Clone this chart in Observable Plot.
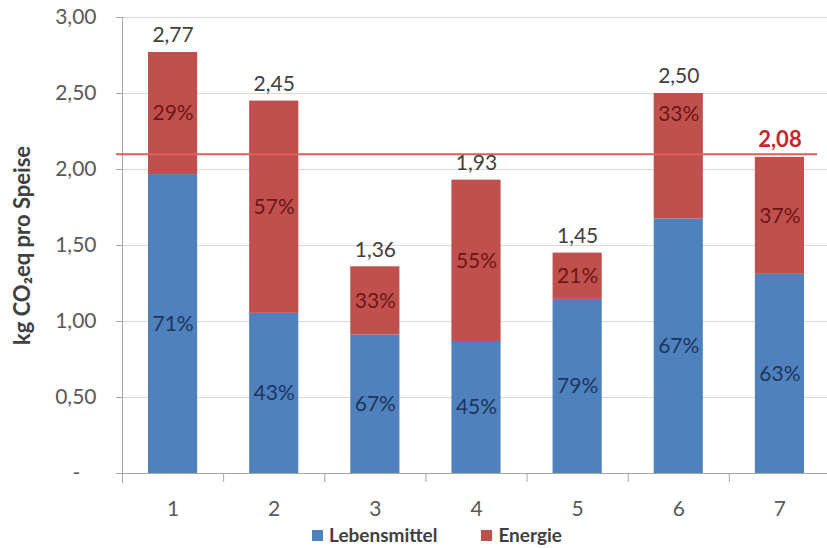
<!DOCTYPE html>
<html>
<head>
<meta charset="utf-8">
<script src="https://cdn.jsdelivr.net/npm/d3@7"></script>
<script src="https://cdn.jsdelivr.net/npm/@observablehq/plot@0.6"></script>
<style>
  html, body { margin: 0; padding: 0; background: #fff; overflow: hidden; }
  #chart { position: relative; width: 827px; height: 548px; font-family: Lato, sans-serif; }
  #chart svg { display: block; }
  .legend { position: absolute; left: 312px; top: 523px; display: flex; align-items: center;
            font-size: 19px; font-weight: 700; color: #404040; line-height: 24px; }
  .legend .item { display: flex; align-items: center; }
  .legend .item + .item { margin-left: 44px; }
  .legend .sw { display: inline-block; width: 11px; height: 11px; margin-right: 6px; }
</style>
</head>
<body>
<div id="chart"></div>
<script>
// Carbon footprint per dish, split into food and energy shares
const dishes = ["1", "2", "3", "4", "5", "6", "7"];
const totals = [2.77, 2.45, 1.36, 1.93, 1.45, 2.50, 2.08];
const foodShare = [71, 43, 67, 45, 79, 67, 63];
const energyShare = [29, 57, 33, 55, 21, 33, 37];
const referenceValue = 2.1;
const highlighted = "7";
const yTicks = [0, 0.5, 1, 1.5, 2, 2.5, 3];
const seriesNames = ["Lebensmittel", "Energie"];
const seriesColors = ["#4f81bd", "#c0504d"];
const yLabel = "kg CO₂eq pro Speise";

const fmt = v => d3.format(".2f")(v).replace(".", ",");

// One segment per dish and series, stacked food first
const segments = dishes.flatMap((dish, i) => {
  const food = totals[i] * foodShare[i] / 100;
  return [
    {dish, pos: i + 1, series: seriesNames[0], y1: 0, y2: food, share: foodShare[i]},
    {dish, pos: i + 1, series: seriesNames[1], y1: food, y2: totals[i], share: energyShare[i]}
  ];
});
const dishRows = dishes.map((dish, i) => ({dish, pos: i + 1, total: totals[i]}));

const mid = d => (d.y1 + d.y2) / 2;
// energy labels that would sit on the reference line are lifted above it
const nearLine = d => Math.abs(mid(d) - referenceValue) < 0.1;
const foodSegs = segments.filter(d => d.series === seriesNames[0]);
const energySegs = segments.filter(d => d.series === seriesNames[1]);

const chart = Plot.plot({
  width: 827,
  height: 520,
  marginLeft: 122,
  marginRight: -3,
  marginTop: 17,
  marginBottom: 47,
  x: {type: "linear", domain: [0.5, dishes.length + 0.5]},
  y: {domain: [0, 3]},
  color: {domain: seriesNames, range: seriesColors},
  style: {fontFamily: "Lato, sans-serif", fontSize: "21px", color: "#595959", background: "transparent"},
  marks: [
    Plot.gridY(yTicks.slice(1), {stroke: "#d9d9d9", strokeOpacity: 1}),
    Plot.rect(segments, {
      x1: d => d.pos - 0.5, x2: d => d.pos + 0.5, y1: "y1", y2: "y2",
      fill: "series", insetLeft: 26, insetRight: 26
    }),
    Plot.frame({anchor: "left", stroke: "#a6a6a6", insetBottom: -9}),
    Plot.frame({anchor: "bottom", stroke: "#a6a6a6", insetLeft: -6}),
    Plot.axisY(yTicks, {
      tickSize: 6, tickPadding: 20, stroke: "#a6a6a6", label: null,
      tickFormat: v => v === 0 ? "-\u00a0\u00a0\u00a0" : fmt(v)
    }),
    Plot.axisX(d3.range(0.5, dishes.length + 1), {tickSize: 9, stroke: "#a6a6a6", tickFormat: () => "", label: null}),
    Plot.axisX(dishRows.map(d => d.pos), {tickSize: 0, tickPadding: 28, tickFormat: p => dishes[p - 1], label: null}),
    Plot.ruleY([referenceValue], {stroke: "#d9605a", strokeWidth: 2, insetLeft: -6, insetRight: 13}),
    // share labels in the middle of each segment
    Plot.text(foodSegs, {
      x: "pos", y: mid, text: d => d.share + "%", fill: "#1c355f", fontSize: 21
    }),
    Plot.text(energySegs.filter(d => !nearLine(d)), {
      x: "pos", y: mid, text: d => d.share + "%", fill: "#6e1616", fontSize: 21
    }),
    Plot.text(energySegs.filter(nearLine), {
      x: "pos", y: mid, dy: -42, text: d => d.share + "%", fill: "#6e1616", fontSize: 21
    }),
    // totals above each bar
    Plot.text(dishRows.filter(d => d.dish !== highlighted), {
      x: "pos", y: "total", text: d => fmt(d.total), dy: -17, fill: "#404040", fontSize: 21
    }),
    Plot.text(dishRows.filter(d => d.dish === highlighted), {
      x: "pos", y: "total", text: d => fmt(d.total), dy: -17, fill: "#c0282d", fontSize: 22, fontWeight: "bold"
    }),
    Plot.text([yLabel], {
      frameAnchor: "left", dx: -100, rotate: -90, textAnchor: "middle",
      fontWeight: "bold", fontSize: 22, fill: "#404040"
    })
  ]
});

const root = document.getElementById("chart");
root.appendChild(chart);

const legend = document.createElement("div");
legend.className = "legend";
seriesNames.forEach((name, i) => {
  const item = document.createElement("div");
  item.className = "item";
  const sw = document.createElement("span");
  sw.className = "sw";
  sw.style.background = seriesColors[i];
  item.appendChild(sw);
  item.appendChild(document.createTextNode(name));
  legend.appendChild(item);
});
root.appendChild(legend);
</script>
</body>
</html>
